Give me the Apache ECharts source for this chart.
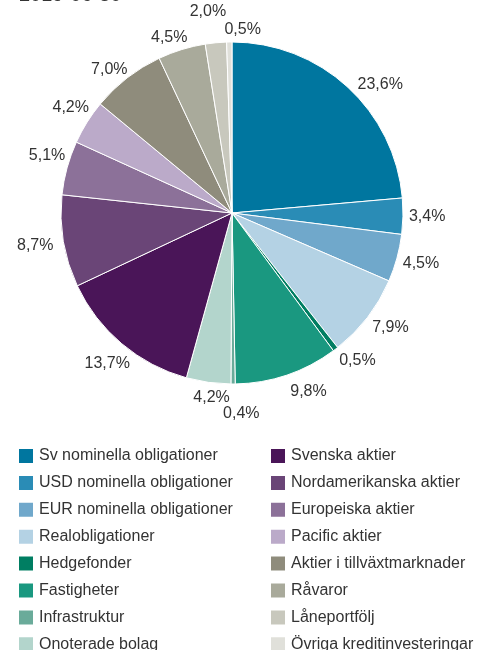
<!DOCTYPE html>
<html>
<head>
<meta charset="utf-8">
<script src="https://cdn.jsdelivr.net/npm/echarts@6/dist/echarts.min.js"></script>
<style>
  html, body { margin: 0; padding: 0; background: #fff; }
</style>
</head>
<body>
<div id="main" style="width: 487px;height:650px;"></div>
<script type="text/javascript">
    // kategorier och andelar (%), medurs från kl 12
    var categories = ['Sv nominella obligationer', 'USD nominella obligationer', 'EUR nominella obligationer',
        'Realobligationer', 'Hedgefonder', 'Fastigheter', 'Infrastruktur', 'Onoterade bolag',
        'Svenska aktier', 'Nordamerikanska aktier', 'Europeiska aktier', 'Pacific aktier',
        'Aktier i tillväxtmarknader', 'Råvaror', 'Låneportfölj', 'Övriga kreditinvesteringar'];
    var values = [23.6, 3.4, 4.5, 7.9, 0.5, 9.8, 0.4, 4.2, 13.7, 8.7, 5.1, 4.2, 7.0, 4.5, 2.0, 0.5];
    var colors = ['#00769f', '#2a8cb6', '#70a8cb', '#b4d2e4', '#007e62', '#1a9880', '#6aab9a', '#b3d5cc',
        '#4a1558', '#6a4577', '#8c7199', '#bbaac9', '#8f8c7c', '#a9aa9b', '#c8c8bd', '#e0e0da'];

    var cx = 232, cy = 213, R = 171;
    // små förskjutningar av etiketter där de annars krockar
    var nudge = {
        0: [6, 9], 5: [8, 4], 6: [8, 17], 7: [9, 3], 8: [12, 9], 9: [-4, 1],
        10: [4, -7], 11: [7, -5], 12: [4, 3], 14: [-4, -19], 15: [14, 0]
    };

    var myChart = echarts.init(document.getElementById('main'));

    var pieData = categories.map(function (c, i) {
        return { name: c, value: values[i], itemStyle: { color: colors[i] } };
    });

    var legendText = { fontFamily: 'Liberation Sans', fontSize: 16, color: '#333' };

    function clamp(v) { return Math.max(-1, Math.min(1, v)); }

    var option = {
        animation: false,
        title: {
            text: '2019-06-30',
            left: 14,
            top: -20,
            textStyle: { fontFamily: 'Liberation Sans', fontSize: 20, fontWeight: 'normal', color: '#333' }
        },
        legend: [{
            orient: 'vertical',
            left: 12,
            top: 442,
            height: 240,
            itemWidth: 16,
            itemHeight: 16,
            itemGap: 8.9,
            icon: 'rect',
            textStyle: legendText,
            data: categories.slice(0, 8)
        }, {
            orient: 'vertical',
            left: 264,
            top: 442,
            height: 240,
            itemWidth: 16,
            itemHeight: 16,
            itemGap: 8.9,
            icon: 'rect',
            textStyle: legendText,
            data: categories.slice(8)
        }],
        series: [{
            type: 'pie',
            center: [cx, cy],
            radius: [0, R],
            startAngle: 90,
            clockwise: true,
            avoidLabelOverlap: false,
            itemStyle: { borderColor: '#fff', borderWidth: 1 },
            label: {
                show: true,
                position: 'outside',
                fontFamily: 'Liberation Sans',
                fontSize: 16,
                color: '#333',
                formatter: function (p) { return p.value.toFixed(1).replace('.', ',') + '%'; }
            },
            labelLine: { show: true, length: 6, length2: 0, lineStyle: { width: 0, opacity: 0 } },
            labelLayout: function (p) {
                var pts = p.labelLinePoints;
                if (!pts) return {};
                var ux = (pts[0][0] - cx) / R, uy = (pts[0][1] - cy) / R;
                var len = Math.sqrt(ux * ux + uy * uy) || 1;
                ux /= len; uy /= len;
                var w = p.labelRect.width / 2, h = 6.5;
                var px = cx + (R + 6) * ux, py = cy + (R + 6) * uy;
                var x = px + w * clamp(2 * ux), y = py + h * clamp(2 * uy);
                var n = nudge[p.dataIndex];
                if (n) { x += n[0]; y += n[1]; }
                return { x: x, y: y, align: 'center', verticalAlign: 'middle' };
            },
            emphasis: { disabled: true },
            data: pieData
        }]
    };

    myChart.setOption(option);
</script>
</body>
</html>
